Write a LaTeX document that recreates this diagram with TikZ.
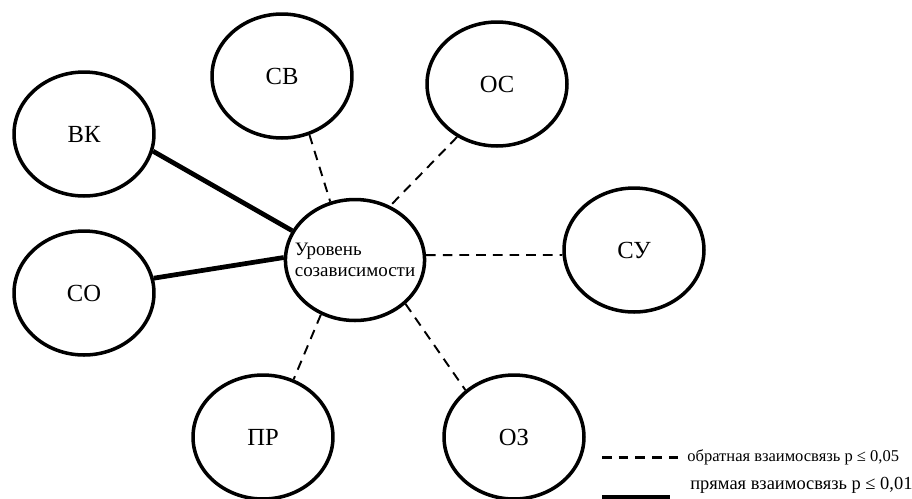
\documentclass[tikz,border=0pt]{standalone}
\usepackage{fontspec}
\setmainfont{Liberation Serif}
\usetikzlibrary{shapes.geometric}

\begin{document}
\begin{tikzpicture}[x=0.02cm,y=-0.02cm,
  factor/.style={draw,ellipse,line width=2pt,minimum width=2.8cm,minimum height=2.48cm,font=\fontsize{14}{16}\selectfont},
  inverse/.style={line width=1.1pt,dash pattern=on 5.5pt off 4pt},
  direct/.style={line width=2.7pt}]
  \useasboundingbox (0,0) rectangle (912,498);
  \node (vk) at (84,134) [factor] {ВК};
  \node (so) at (84,293) [factor] {СО};
  \node (sv) at (282,76) [factor] {СВ};
  \node (os) at (497,84) [factor] {ОС};
  \node (su) at (634,250) [factor] {СУ};
  \node (pr) at (263,437) [factor] {ПР};
  \node (oz) at (514,437) [factor] {ОЗ};
  \node (core) at (355,260) [factor,minimum width=2.74cm,minimum height=2.42cm,inner xsep=-0.22cm,align=left,font=\fontsize{10.8}{12.2}\selectfont] {Уровень\\созависимости};
  % links
  \draw[direct] (vk.-14) -- (core.155);
  \draw[direct] (so.12) -- (core.178);
  \draw[inverse] (sv.-65) -- (core.113);
  \draw[inverse] (os.233) -- (core.57);
  \draw[inverse] (core.4) -- (su.184);
  \draw[inverse] (core.238) -- (pr.62);
  \draw[inverse] (core.319) -- (oz.136);
  % legend
  \coordinate (dashA) at (602,457);
  \coordinate (dashB) at (680,457);
  \coordinate (lineA) at (602,497);
  \coordinate (lineB) at (670,497);
  \draw[inverse,line width=1.7pt] (dashA) -- (dashB);
  \draw[line width=1.8pt] (lineA) -- (lineB);
  \node (inv) at (687,457) [anchor=west,inner sep=0pt,font=\fontsize{9.4}{10}\selectfont] {обратная взаимосвязь p ≤ 0,05};
  \node (dir) at (690,485) [anchor=west,inner sep=0pt,font=\fontsize{10.5}{11}\selectfont] {прямая взаимосвязь p ≤ 0,01};
\end{tikzpicture}
\end{document}
